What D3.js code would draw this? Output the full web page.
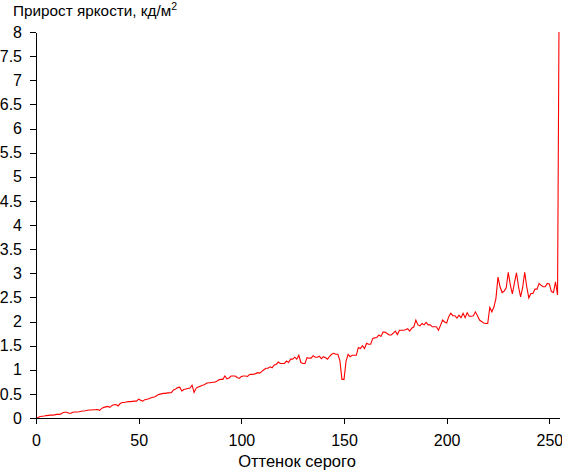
<!DOCTYPE html>
<html>
<head>
<meta charset="utf-8">
<script src="https://cdn.jsdelivr.net/npm/d3@7"></script>
<style>
  html, body { margin: 0; padding: 0; background: #fff; }
  svg { display: block; font-family: "Liberation Sans", Arial, sans-serif; }
</style>
</head>
<body>
<svg id="chart" width="562" height="471"></svg>
<script>
// Data: brightness increment per gray level (0..255)
const grayLevels = d3.range(0, 256);
const brightnessIncrement = [
  0.00, 0.01, 0.03, 0.035, 0.04, 0.05, 0.055, 0.06, 0.06, 0.065,
  0.075, 0.075, 0.08, 0.11, 0.12, 0.12, 0.10, 0.10, 0.12, 0.125,
  0.125, 0.13, 0.14, 0.145, 0.15, 0.16, 0.165, 0.165, 0.17, 0.17,
  0.175, 0.16, 0.20, 0.22, 0.23, 0.24, 0.22, 0.26, 0.275, 0.28,
  0.25, 0.30, 0.32, 0.32, 0.33, 0.34, 0.34, 0.345, 0.35, 0.35,
  0.39, 0.37, 0.35, 0.38, 0.39, 0.40, 0.42, 0.43, 0.44, 0.47,
  0.49, 0.50, 0.51, 0.51, 0.52, 0.52, 0.53, 0.58, 0.60, 0.63,
  0.64, 0.56, 0.59, 0.60, 0.61, 0.62, 0.68, 0.53, 0.62, 0.64,
  0.66, 0.68, 0.69, 0.72, 0.73, 0.73, 0.74, 0.74, 0.76, 0.79,
  0.80, 0.80, 0.87, 0.81, 0.83, 0.87, 0.87, 0.87, 0.84, 0.82,
  0.86, 0.87, 0.87, 0.86, 0.90, 0.905, 0.91, 0.92, 0.94, 0.93,
  0.965, 1.00, 1.03, 1.03, 1.06, 1.04, 1.10, 1.11, 1.16, 1.13,
  1.13, 1.13, 1.18, 1.15, 1.22, 1.22, 1.26, 1.22, 1.30, 1.15,
  1.13, 1.13, 1.25, 1.24, 1.24, 1.29, 1.26, 1.26, 1.28, 1.23,
  1.27, 1.25, 1.22, 1.28, 1.32, 1.34, 1.32, 1.32, 1.19, 0.80,
  0.80, 1.18, 1.32, 1.27, 1.30, 1.30, 1.30, 1.46, 1.44, 1.50,
  1.44, 1.55, 1.53, 1.53, 1.65, 1.66, 1.67, 1.72, 1.69, 1.78,
  1.78, 1.75, 1.72, 1.72, 1.76, 1.80, 1.73, 1.82, 1.82, 1.82,
  1.83, 1.85, 1.80, 1.86, 1.89, 2.03, 1.93, 1.91, 1.96, 1.93,
  1.98, 1.93, 1.93, 1.89, 1.89, 1.89, 1.82, 1.92, 2.03, 1.99,
  1.97, 2.10, 2.17, 2.12, 2.12, 2.07, 2.13, 2.08, 2.17, 2.08,
  2.18, 2.11, 2.11, 2.12, 2.20, 2.12, 2.03, 2.00, 1.97, 1.96,
  1.96, 2.29, 2.20, 2.30, 2.48, 2.92, 2.72, 2.60, 2.63, 2.70,
  3.02, 2.76, 2.57, 2.80, 3.01, 2.72, 2.51, 2.70, 3.02, 2.72,
  2.49, 2.58, 2.58, 2.67, 2.67, 2.79, 2.75, 2.72, 2.72, 2.79,
  2.78, 2.62, 2.60, 2.82, 2.55, 10.5
];
const xTickValues = [0, 50, 100, 150, 200, 250];
const yTickValues = [0, 0.5, 1, 1.5, 2, 2.5, 3, 3.5, 4, 4.5, 5, 5.5, 6, 6.5, 7, 7.5, 8];
const yTitle = "Прирост яркости, кд/м";
const xTitle = "Оттенок серого";

const svg = d3.select("#chart");
const margin = { left: 36, top: 32, right: 2.4, bottom: 53 };
const W = 562, H = 471;

const x = d3.scaleLinear().domain([0, 255]).range([margin.left, W - margin.right]);
const y = d3.scaleLinear().domain([0, 8]).range([H - margin.bottom, margin.top]);

svg.append("defs").append("clipPath").attr("id", "clip")
  .append("rect")
  .attr("x", margin.left).attr("y", margin.top)
  .attr("width", W - margin.right - margin.left + 1)
  .attr("height", H - margin.bottom - margin.top);

const line = d3.line()
  .x((d, i) => x(grayLevels[i]))
  .y(d => y(d));

svg.append("path")
  .datum(brightnessIncrement)
  .attr("clip-path", "url(#clip)")
  .attr("fill", "none")
  .attr("stroke", "#ff0000")
  .attr("stroke-width", 1.1)
  .attr("d", line);

const xAxis = svg.append("g")
  .attr("transform", `translate(0,${H - margin.bottom})`)
  .call(d3.axisBottom(x).tickValues(xTickValues).tickSize(6).tickSizeOuter(0).tickPadding(11).tickFormat(d3.format("d")));

const yAxis = svg.append("g")
  .attr("transform", `translate(${margin.left},0)`)
  .call(d3.axisLeft(y).tickValues(yTickValues).tickSize(6).tickSizeOuter(0).tickPadding(8).tickFormat(d => String(d)));

[xAxis, yAxis].forEach(g => {
  g.selectAll("path, line").attr("stroke", "#000").attr("shape-rendering", "crispEdges");
  g.selectAll("text").attr("font-size", 16).attr("fill", "#000")
    .attr("font-family", "Liberation Sans, Arial, sans-serif");
});

const t = svg.append("text")
  .attr("x", 13).attr("y", 16)
  .attr("font-size", 15.3).attr("fill", "#000");
t.append("tspan").text(yTitle);
t.append("tspan").attr("font-size", 10.5).attr("dy", -6).text("2");

svg.append("text")
  .attr("x", 297).attr("y", 467)
  .attr("text-anchor", "middle")
  .attr("font-size", 16.5).attr("fill", "#000")
  .text(xTitle);
</script>
</body>
</html>
